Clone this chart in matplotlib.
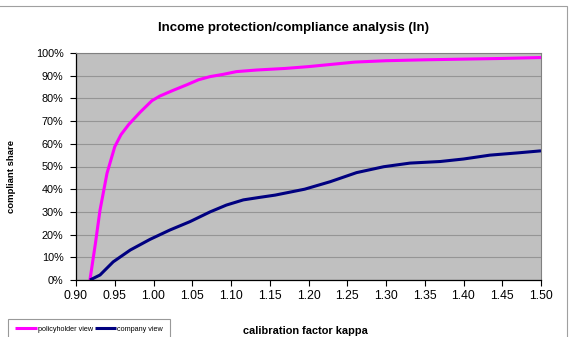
import matplotlib
matplotlib.use("Agg")
import matplotlib.pyplot as plt
from matplotlib.patches import Rectangle
from matplotlib.ticker import FuncFormatter

plt.rcParams['font.family'] = ['Liberation Sans', 'DejaVu Sans']

# calibration factor kappa vs compliant share (%)
kappa_ph = [0.918, 0.925, 0.931, 0.940, 0.950, 0.958, 0.968, 0.983, 0.998, 1.008,
            1.025, 1.043, 1.058, 1.073, 1.090, 1.107, 1.133, 1.170, 1.200, 1.230,
            1.260, 1.300, 1.350, 1.400, 1.450, 1.500]
share_ph = [0.0, 16.0, 30.8, 47.0, 58.7, 64.0, 68.5, 74.0, 79.0, 81.0,
            83.5, 86.0, 88.2, 89.6, 90.6, 91.8, 92.5, 93.2, 94.0, 95.0,
            96.0, 96.6, 97.0, 97.3, 97.6, 98.0]

kappa_co = [0.918, 0.931, 0.948, 0.970, 0.9955, 1.021, 1.047, 1.073, 1.094, 1.116,
            1.137, 1.157, 1.195, 1.228, 1.262, 1.297, 1.331, 1.370, 1.400, 1.434,
            1.470, 1.500]
share_co = [0.0, 2.2, 8.0, 13.2, 17.9, 22.0, 25.7, 30.0, 33.0, 35.3,
            36.4, 37.4, 40.0, 43.3, 47.3, 49.9, 51.5, 52.2, 53.3, 55.0,
            56.0, 56.9]

x_ticks = [0.90, 0.95, 1.00, 1.05, 1.10, 1.15, 1.20, 1.25, 1.30, 1.35, 1.40, 1.45, 1.50]
y_ticks = list(range(0, 101, 10))

fig = plt.figure(figsize=(5.69, 3.37), dpi=100)
ax = fig.add_axes([76 / 569, 1 - 280 / 337, (541 - 76) / 569, (280 - 53) / 337])

ax.set_facecolor('#c0c0c0')
ax.set_xlim(0.90, 1.50)
ax.set_ylim(0, 100)
ax.set_xticks(x_ticks)
ax.set_yticks(y_ticks)
ax.xaxis.set_major_formatter(FuncFormatter(lambda v, p: f"{v:.2f}"))
ax.yaxis.set_major_formatter(FuncFormatter(lambda v, p: f"{v:.0f}%"))
ax.grid(axis='y', color='#959595', linewidth=0.8)
ax.set_axisbelow(True)

for side in ('top', 'right'):
    ax.spines[side].set_color('#808080')
    ax.spines[side].set_linewidth(0.8)
for side in ('left', 'bottom'):
    ax.spines[side].set_color('black')
    ax.spines[side].set_linewidth(0.9)

ax.tick_params(axis='both', length=4, width=0.8, direction='out', colors='black')
ax.tick_params(axis='x', labelsize=8.8, pad=3)
ax.tick_params(axis='y', labelsize=7.8, pad=5)

ax.plot(kappa_ph, share_ph, color='#ff00ff', linewidth=2.2, solid_capstyle='butt', label='policyholder view')
ax.plot(kappa_co, share_co, color='#000080', linewidth=2.2, solid_capstyle='butt', label='company view')

fig.text(294 / 569, 1 - 28 / 337, 'Income protection/compliance analysis (ln)',
         ha='center', va='center', fontsize=9.5, fontweight='bold')
fig.text(305 / 569, 1 - 331 / 337, 'calibration factor kappa',
         ha='center', va='center', fontsize=7.9, fontweight='bold')
fig.text(12 / 569, 1 - 176 / 337, 'compliant share', rotation=90,
         ha='center', va='center', fontsize=6.8, fontweight='bold')

# chart area outline
fig.patches.append(Rectangle((-0.01, -0.01), 567 / 569 + 0.01, (337 - 6) / 337 + 0.01,
                             transform=fig.transFigure, fill=False,
                             edgecolor='#a0a0a0', linewidth=0.8))

leg = fig.legend(loc='upper left', bbox_to_anchor=(8 / 569, 1 - 319 / 337), ncol=2,
                 fontsize=5.2, frameon=True, fancybox=False, handlelength=3.0,
                 handletextpad=0.15, columnspacing=0.25, borderpad=0.95,
                 borderaxespad=0)
leg.get_frame().set_edgecolor('#808080')
leg.get_frame().set_linewidth(0.8)

fig.savefig('out.png', dpi=100)
